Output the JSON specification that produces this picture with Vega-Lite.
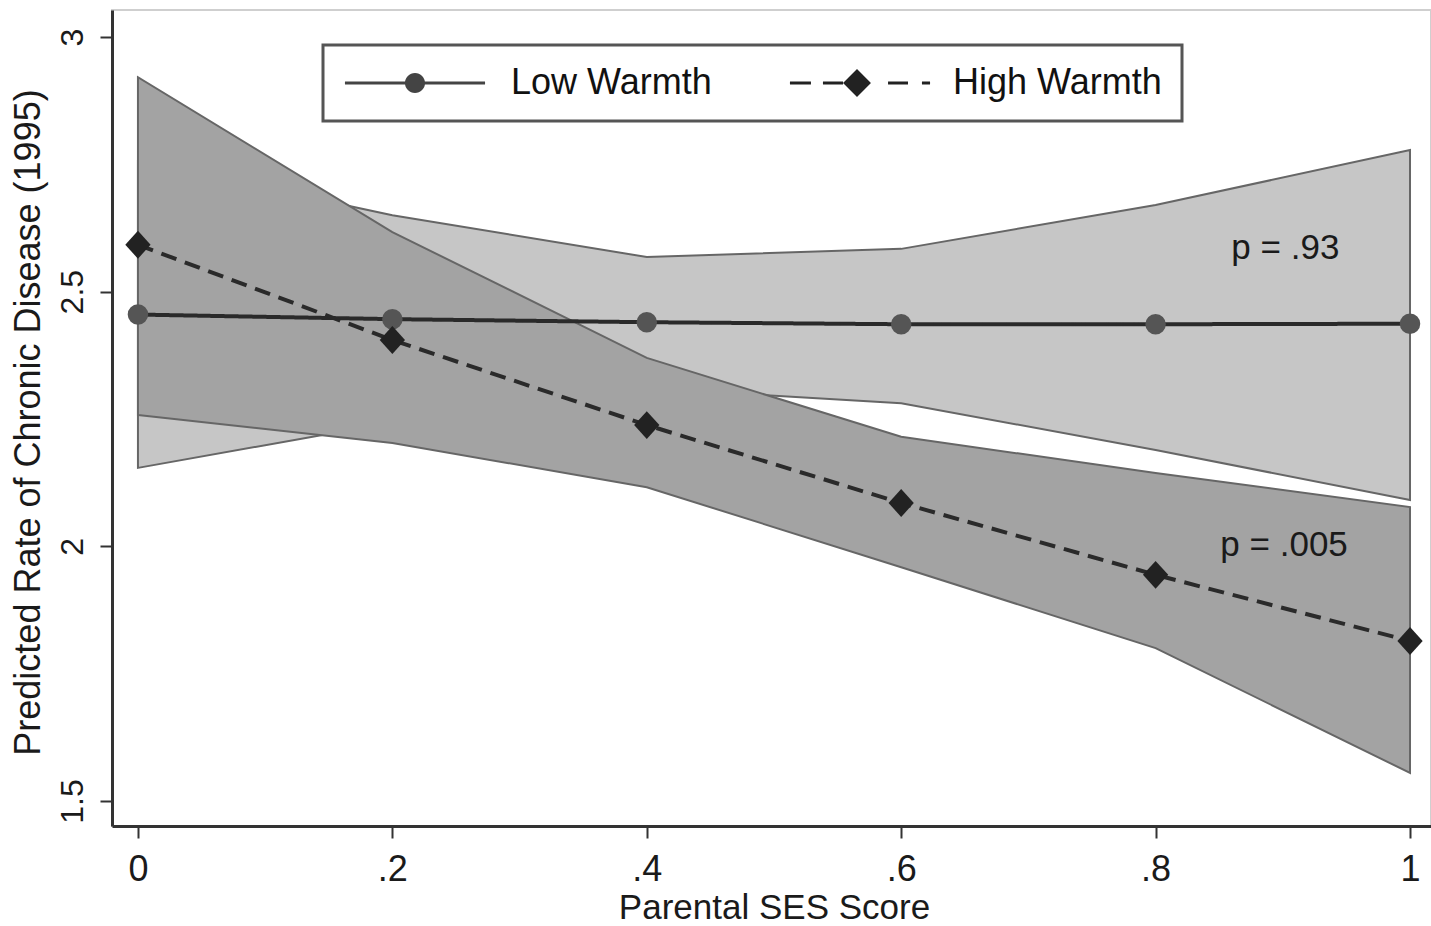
{
  "$schema": "https://vega.github.io/schema/vega-lite/v6.json",
  "autosize": {"type": "none"},
  "width": 1319,
  "height": 816,
  "padding": {"left": 112, "top": 10, "right": 0, "bottom": 100},
  "background": "#ffffff",
  "config": {
    "font": "Liberation Sans",
    "view": {"stroke": "#cfcfcf", "strokeWidth": 2}
  },
  "datasets": {
    "series": [
      {"x": 0, "group": "Low Warmth", "mean": 2.455, "lo": 2.154, "hi": 2.757},
      {"x": 0.2, "group": "Low Warmth", "mean": 2.446, "lo": 2.243, "hi": 2.650},
      {"x": 0.4, "group": "Low Warmth", "mean": 2.440, "lo": 2.310, "hi": 2.568},
      {"x": 0.6, "group": "Low Warmth", "mean": 2.436, "lo": 2.281, "hi": 2.584},
      {"x": 0.8, "group": "Low Warmth", "mean": 2.436, "lo": 2.189, "hi": 2.670},
      {"x": 1, "group": "Low Warmth", "mean": 2.437, "lo": 2.091, "hi": 2.778},
      {"x": 0, "group": "High Warmth", "mean": 2.592, "lo": 2.258, "hi": 2.921},
      {"x": 0.2, "group": "High Warmth", "mean": 2.405, "lo": 2.203, "hi": 2.617},
      {"x": 0.4, "group": "High Warmth", "mean": 2.238, "lo": 2.116, "hi": 2.370},
      {"x": 0.6, "group": "High Warmth", "mean": 2.085, "lo": 1.959, "hi": 2.215},
      {"x": 0.8, "group": "High Warmth", "mean": 1.944, "lo": 1.800, "hi": 2.144},
      {"x": 1, "group": "High Warmth", "mean": 1.814, "lo": 1.555, "hi": 2.077}
    ],
    "notes": [
      {"x": 0.902, "y": 2.586, "label": "p = .93"},
      {"x": 0.901, "y": 2.003, "label": "p = .005"}
    ]
  },
  "layer": [
    {
      "data": {"name": "series"},
      "transform": [{"filter": "datum.group === 'Low Warmth'"}],
      "mark": {"type": "area", "fill": "#c6c6c6", "stroke": "#666666", "strokeWidth": 2},
      "encoding": {
        "x": {
          "field": "x", "type": "quantitative",
          "scale": {"domain": [-0.0204, 1.0165], "nice": false, "zero": false},
          "axis": {
            "title": "Parental SES Score",
            "values": [0, 0.2, 0.4, 0.6, 0.8, 1],
            "labelExpr": "datum.value == 0 ? '0' : datum.value == 1 ? '1' : '.' + round(datum.value * 10)",
            "grid": false,
            "domainColor": "#333333", "domainWidth": 3,
            "tickColor": "#333333", "tickWidth": 2, "tickSize": 12,
            "labelFontSize": 36, "labelColor": "#1a1a1a", "labelBaseline": "alphabetic", "labelPadding": 42,
            "labelFlush": false, "labelOverlap": false,
            "titleFontSize": 35, "titleFontWeight": "normal", "titleColor": "#1a1a1a",
            "titleBaseline": "alphabetic", "titleY": 92, "titleX": 662
          }
        },
        "y": {
          "field": "lo", "type": "quantitative",
          "scale": {"domain": [1.4508, 3.053], "nice": false, "zero": false},
          "axis": {
            "title": "Predicted Rate of Chronic Disease (1995)",
            "values": [1.5, 2, 2.5, 3],
            "labelExpr": "format(datum.value, '~g')",
            "grid": false,
            "domainColor": "#333333", "domainWidth": 3,
            "tickColor": "#333333", "tickWidth": 2, "tickSize": 12,
            "labelFontSize": 32, "labelColor": "#1a1a1a", "labelAngle": -90,
            "labelAlign": "center", "labelBaseline": "bottom", "labelPadding": 11,
            "labelFlush": false, "labelOverlap": false,
            "titleFontSize": 36, "titleFontWeight": "normal", "titleColor": "#1a1a1a",
            "titleAngle": -90, "titleAlign": "center", "titleBaseline": "middle",
            "titleX": -84, "titleY": 412
          }
        },
        "y2": {"field": "hi"}
      }
    },
    {
      "data": {"name": "series"},
      "transform": [{"filter": "datum.group === 'High Warmth'"}],
      "mark": {"type": "area", "fill": "#a3a3a3", "stroke": "#666666", "strokeWidth": 2},
      "encoding": {
        "x": {"field": "x", "type": "quantitative"},
        "y": {"field": "lo", "type": "quantitative"},
        "y2": {"field": "hi"}
      }
    },
    {
      "mark": {"type": "rule", "color": "#333333", "strokeWidth": 5},
      "encoding": {"y": {"datum": 3.053, "type": "quantitative"}}
    },
    {
      "data": {"name": "series"},
      "mark": {"type": "line", "color": "#2a2a2a", "strokeWidth": 4},
      "encoding": {
        "x": {"field": "x", "type": "quantitative"},
        "y": {"field": "mean", "type": "quantitative"},
        "detail": {"field": "group"},
        "strokeDash": {
          "field": "group", "type": "nominal",
          "scale": {"domain": ["Low Warmth", "High Warmth"], "range": [[1, 0], [16, 9]]},
          "legend": {
            "title": null,
            "orient": "none",
            "legendX": 211,
            "legendY": 35,
            "direction": "horizontal",
            "fillColor": "#ffffff",
            "strokeColor": "#555555",
            "padding": 20,
            "columnPadding": 73,
            "symbolSize": 900,
            "symbolOffset": 54,
            "labelOffset": 78,
            "labelFontSize": 36,
            "labelColor": "#111111",
            "labelLimit": 400,
            "symbolStrokeWidth": 0,
            "symbolStrokeColor": "#333333",
            "symbolFillColor": "#333333",
            "encode": {
              "legend": {"update": {"strokeWidth": {"value": 3}}},
              "symbols": {
                "update": {
                  "shape": {"signal": "datum.value === 'Low Warmth' ? 'M-4.67,-0.1L4.67,-0.1L4.67,0.1L-4.67,0.1ZM0.67,0A0.67,0.67,0,1,1,-0.67,0A0.67,0.67,0,1,1,0.67,0Z' : 'M-4.47,-0.1L-3.07,-0.1L-3.07,0.1L-4.47,0.1ZM-2.27,-0.1L-0.93,-0.1L-0.93,0.1L-2.27,0.1ZM0,-0.93L0.93,0L0,0.93L-0.93,0ZM2.07,-0.1L3.4,-0.1L3.4,0.1L2.07,0.1ZM4.33,-0.1L4.87,-0.1L4.87,0.1L4.33,0.1Z'"},
                  "fill": {"signal": "datum.value === 'Low Warmth' ? '#444444' : '#222222'"},
                  "strokeWidth": {"value": 0},
                  "strokeDash": {"value": [1, 0]},
                  "opacity": {"value": 1}
                }
              }
            }
          }
        }
      }
    },
    {
      "data": {"name": "series"},
      "transform": [{"filter": "datum.group === 'Low Warmth'"}],
      "mark": {"type": "point", "filled": true, "opacity": 1, "shape": "circle", "size": 420, "color": "#555555"},
      "encoding": {
        "x": {"field": "x", "type": "quantitative"},
        "y": {"field": "mean", "type": "quantitative"}
      }
    },
    {
      "data": {"name": "series"},
      "transform": [{"filter": "datum.group === 'High Warmth'"}],
      "mark": {"type": "point", "filled": true, "opacity": 1, "shape": "M0,-1.1L1,0L0,1.1L-1,0Z", "size": 640, "color": "#222222"},
      "encoding": {
        "x": {"field": "x", "type": "quantitative"},
        "y": {"field": "mean", "type": "quantitative"}
      }
    },
    {
      "data": {"name": "notes"},
      "mark": {"type": "text", "fontSize": 35, "color": "#1a1a1a", "align": "center", "baseline": "middle"},
      "encoding": {
        "x": {"field": "x", "type": "quantitative"},
        "y": {"field": "y", "type": "quantitative"},
        "text": {"field": "label"}
      }
    }
  ]
}
